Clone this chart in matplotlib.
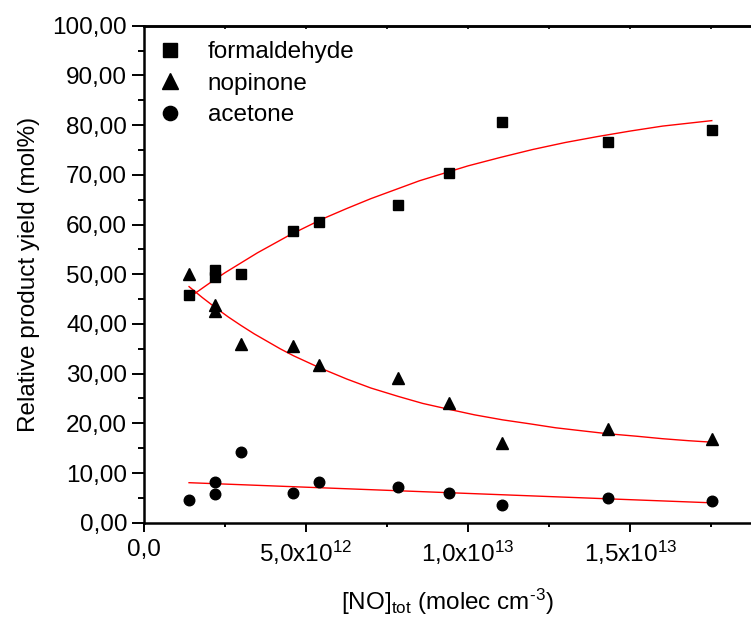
import matplotlib
matplotlib.use("Agg")
import matplotlib.pyplot as plt
from matplotlib.ticker import FixedLocator, MultipleLocator

# ---- data ----
no_tot = [1.39e12, 2.2e12, 2.2e12, 2.99e12, 4.61e12, 5.41e12, 7.85e12,
          9.42e12, 1.106e13, 1.431e13, 1.752e13]
formaldehyde = [45.9, 50.8, 49.5, 50.0, 58.6, 60.5, 63.9, 70.3, 80.7, 76.5, 79.1]
nopinone = [50.0, 43.9, 42.5, 36.0, 35.6, 31.7, 29.2, 24.0, 16.1, 18.8, 16.9]
acetone = [4.57, 8.25, 5.71, 14.3, 6.04, 8.25, 7.25, 6.04, 3.5, 4.97, 4.3]

# fitted curves
fit_form_x = [1.39e12, 2.0e12, 2.5e12, 3.0e12, 3.5e12, 4.0e12, 4.5e12, 5.5e12,
              6.25e12, 7.0e12, 8.5e12, 1.0e13, 1.1e13, 1.2e13, 1.3e13, 1.4e13,
              1.5e13, 1.6e13, 1.752e13]
fit_form_y = [45.3, 48.1, 50.3, 52.3, 54.3, 56.1, 57.9, 61.1, 63.2, 65.2, 68.8,
              71.8, 73.5, 75.1, 76.5, 77.7, 78.8, 79.8, 80.9]
fit_nop_x = [1.39e12, 1.8e12, 2.2e12, 2.6e12, 2.99e12, 3.4e12, 3.8e12, 4.2e12,
             4.61e12, 5.41e12, 6.26e12, 7.0e12, 7.85e12, 8.6e12, 9.42e12,
             1.02e13, 1.106e13, 1.19e13, 1.27e13, 1.35e13, 1.431e13, 1.52e13,
             1.6e13, 1.68e13, 1.752e13]
fit_nop_y = [47.5, 45.3, 43.3, 41.4, 39.7, 38.0, 36.5, 35.0, 33.6, 31.2, 28.9,
             27.1, 25.4, 24.0, 22.8, 21.7, 20.7, 19.9, 19.1, 18.5, 17.9, 17.4,
             16.9, 16.5, 16.2]
fit_ace_x = [1.39e12, 1.752e13]
fit_ace_y = [8.05, 4.0]

x_major = [0, 5e12, 1e13, 1.5e13]
x_labels = ["0,0", r"5,0x10$^{12}$", r"1,0x10$^{13}$", r"1,5x10$^{13}$"]
y_major = [0, 10, 20, 30, 40, 50, 60, 70, 80, 90, 100]
y_labels = ["0,00", "10,00", "20,00", "30,00", "40,00", "50,00",
            "60,00", "70,00", "80,00", "90,00", "100,00"]

plt.rcParams["font.family"] = ["Liberation Sans", "DejaVu Sans"]
plt.rcParams["mathtext.fontset"] = "custom"
plt.rcParams["mathtext.rm"] = "Liberation Sans"
plt.rcParams["mathtext.it"] = "Liberation Sans:italic"
plt.rcParams["mathtext.default"] = "regular"

FS = 17.5
fig = plt.figure(figsize=(7.51, 6.18), dpi=100)
ax = fig.add_axes([144 / 751, 1 - 522.7 / 618, 1 - 144 / 751, (522.7 - 25.7) / 618])

ax.plot(no_tot, formaldehyde, linestyle="none", marker="s", ms=7.4,
        color="black", label="formaldehyde", zorder=3)
ax.plot(no_tot, nopinone, linestyle="none", marker="^", ms=9.0,
        color="black", label="nopinone", zorder=3)
ax.plot(no_tot, acetone, linestyle="none", marker="o", ms=7.6,
        color="black", label="acetone", zorder=3)

ax.plot(fit_form_x, fit_form_y, color="#ff0000", lw=1.0, zorder=2)
ax.plot(fit_nop_x, fit_nop_y, color="#ff0000", lw=1.0, zorder=2)
ax.plot(fit_ace_x, fit_ace_y, color="#ff0000", lw=1.0, zorder=2)

ax.set_xlim(0, 1.873e13)
ax.set_ylim(0, 100)

ax.xaxis.set_major_locator(FixedLocator(x_major))
ax.set_xticklabels(x_labels)
ax.xaxis.set_minor_locator(FixedLocator([2.5e12, 7.5e12, 1.25e13, 1.75e13]))
ax.yaxis.set_major_locator(FixedLocator(y_major))
ax.set_yticklabels(y_labels)
ax.yaxis.set_minor_locator(MultipleLocator(5))

ax.tick_params(axis="x", which="major", direction="out", length=6.5, width=1.4,
               labelsize=FS, pad=5)
ax.tick_params(axis="x", which="minor", direction="out", length=3.2, width=1.4)
ax.tick_params(axis="y", which="major", direction="out", length=8.8, width=1.4,
               labelsize=FS, pad=3.4)
ax.tick_params(axis="y", which="minor", direction="out", length=4.1, width=1.4)

for s in ("left", "bottom", "top"):
    ax.spines[s].set_linewidth(1.8)
ax.spines["right"].set_visible(False)

sec = ax.secondary_xaxis("top")
sec.set_xticks([2.5e12 * i for i in range(1, 8)])
sec.tick_params(direction="in", length=2.5, width=1.2, labeltop=False)
sec.spines["top"].set_linewidth(1.8)

ax.set_ylabel("Relative product yield (mol%)", fontsize=FS, labelpad=9)
ax.set_xlabel("[NO]$_{tot}$ (molec cm$^{\u2010 3}$)", fontsize=FS, labelpad=14)

ax.legend(loc="upper left", bbox_to_anchor=(0.023, 0.969), frameon=False,
          fontsize=FS, markerscale=1.35, handlelength=1.0, handletextpad=1.05,
          labelspacing=0.39, borderpad=0, borderaxespad=0)

fig.savefig("out.png", dpi=100)
